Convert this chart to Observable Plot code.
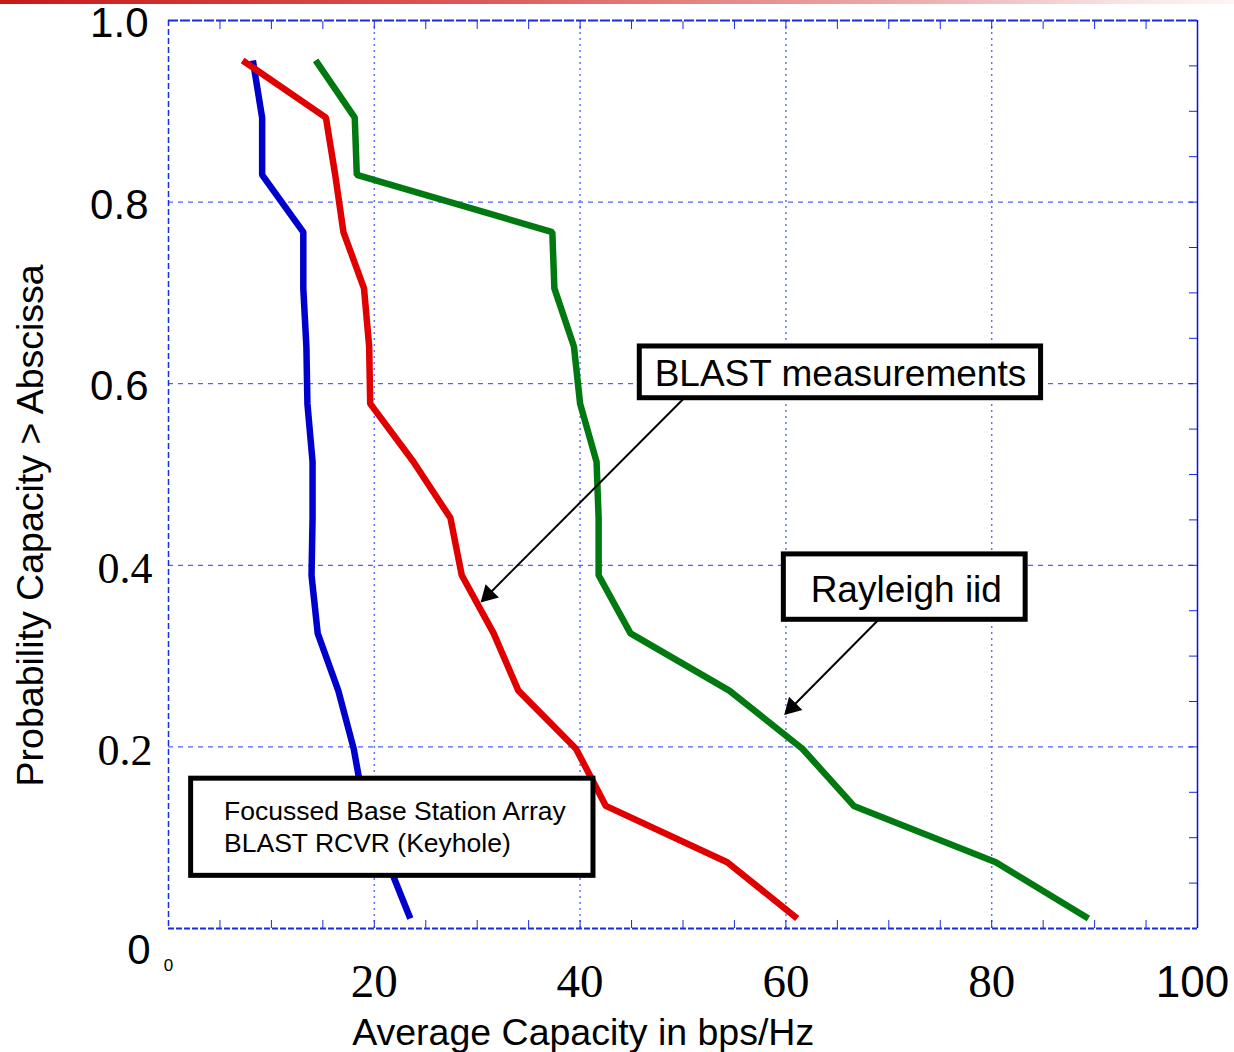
<!DOCTYPE html>
<html><head><meta charset="utf-8">
<script src="https://cdn.jsdelivr.net/npm/d3@7"></script>
<script src="https://cdn.jsdelivr.net/npm/@observablehq/plot@0.6"></script>
<style>
body{margin:0;background:#fff;}
#wrap{position:relative;width:1234px;height:1052px;}
#bar{position:absolute;left:0;top:0;width:1234px;height:4px;background:linear-gradient(to right,#c81818,#dd5c5c 40%,#ecb0b0 75%,#f8e6e6 92%,#fdf4f4);z-index:2;}
#wrap svg{position:absolute;left:0;top:0;}
</style></head><body><div id="wrap"><div id="bar"></div></div>
<script>
// Probability levels (ordinate) shared by the three curves
const probLevels = [0.956,0.893,0.830,0.767,0.705,0.641,0.578,0.514,0.452,0.389,0.325,0.262,0.198,0.135,0.073,0.011];
// Average capacity (bps/Hz) for each curve
const keyhole  = [8.2,9.1,9.1,13.1,13.1,13.4,13.5,14.0,14.0,13.9,14.5,16.5,18.0,19.0,21.3,23.5];
const blast    = [7.2,15.3,16.2,17.0,19.0,19.5,19.6,23.8,27.4,28.5,31.6,34.0,39.6,42.5,54.3,61.1];
const rayleigh = [14.3,18.1,18.3,37.3,37.5,39.4,40.0,41.6,41.8,41.8,44.9,54.5,61.6,66.6,80.4,89.4];

// Axis ticks
const xGrid = [20,40,60,80];
const yGrid = [0.2,0.4,0.6,0.8];
const xMinor = d3.range(5,100,5);
const yMinor = d3.range(0.05,1.0,0.05);
const xTickSerif = [20,40,60,80];
const xTickSans = [100];
const yTickSans = [0.6,0.8,1.0];
const yTickSerif = [0.2,0.4];

// Annotation boxes (data coordinates)
const boxLabels = ["BLAST measurements","Rayleigh iid","Focussed Base Station Array\nBLAST RCVR (Keyhole)"];
const boxX1 = [45.8,59.8,2.2];
const boxX2 = [84.8,83.3,41.3];
const boxY1 = [0.584,0.340,0.058];
const boxY2 = [0.641,0.412,0.165];
const labelX = [65.3,71.7,5.4];
const labelY = [0.611,0.373,0.113];
// Arrows
const arrowX1 = [50.1,69.0];
const arrowY1 = [0.584,0.340];
const arrowX2 = [30.5,60.0];
const arrowY2 = [0.361,0.237];

const mk = (vals) => probLevels.map((p,i) => ({cap: vals[i], prob: p}));
const boxes = boxLabels.map((t,i) => ({t, x1: boxX1[i], x2: boxX2[i], y1: boxY1[i], y2: boxY2[i], lx: labelX[i], ly: labelY[i]}));
const arrows = arrowX1.map((d,i) => ({x1: arrowX1[i], y1: arrowY1[i], x2: arrowX2[i], y2: arrowY2[i]}));

const SANS = "Liberation Sans, Arial, sans-serif";
const SERIF = "Liberation Serif, Times New Roman, serif";
const AX = "#1a2be0";

const chart = Plot.plot({
  width: 1234, height: 1052,
  marginLeft: 168, marginRight: 37, marginTop: 20, marginBottom: 124,
  x: {domain: [0,100], label: null},
  y: {domain: [0,1], label: null},
  style: {background: "transparent", overflow: "visible"},
  marks: [
    Plot.gridY(yGrid, {stroke: "#2a3af0", strokeOpacity: 1, strokeDasharray: "5,5", strokeWidth: 1}),
    Plot.gridX(xGrid, {stroke: "#6272ff", strokeOpacity: 1, strokeDasharray: "2,4", strokeWidth: 1.5}),
    Plot.axisX({anchor: "bottom", ticks: xMinor, tickSize: -8, tickFormat: () => "", stroke: AX, label: null}),
    Plot.axisX({anchor: "top", ticks: xMinor, tickSize: -8, tickFormat: () => "", stroke: AX, label: null}),
    Plot.axisY({anchor: "right", ticks: yMinor, tickSize: -9, tickFormat: () => "", stroke: AX, label: null}),
    Plot.ruleX([0], {stroke: AX, strokeDasharray: "6,3", strokeWidth: 1.5}),
    Plot.ruleY([0], {stroke: AX, strokeDasharray: "6,2", strokeWidth: 2}),
    Plot.ruleY([1], {stroke: AX, strokeDasharray: "10,2", strokeWidth: 2}),
    Plot.ruleX([100], {stroke: "#0010dd", strokeWidth: 1.5}),
    Plot.line(mk(keyhole), {x: "cap", y: "prob", stroke: "#0000cc", strokeWidth: 6.5, strokeLinejoin: "miter", strokeLinecap: "butt"}),
    Plot.line(mk(blast), {x: "cap", y: "prob", stroke: "#e00000", strokeWidth: 6.5, strokeLinejoin: "miter", strokeLinecap: "butt"}),
    Plot.line(mk(rayleigh), {x: "cap", y: "prob", stroke: "#007a10", strokeWidth: 6.5, strokeLinejoin: "miter", strokeLinecap: "butt"}),
    Plot.arrow(arrows, {x1: "x1", y1: "y1", x2: "x2", y2: "y2", stroke: "black", strokeWidth: 2, headLength: 0}),
    Plot.dot(arrows, {x: "x2", y: "y2", symbol: "triangle", r: 7, fill: "black", stroke: "none", rotate: 225, dx: 6, dy: -6}),
    Plot.rect(boxes, {x1: "x1", x2: "x2", y1: "y1", y2: "y2", fill: "white", stroke: "black", strokeWidth: 5}),
    Plot.text(boxes.slice(0,2), {x: "lx", y: "ly", text: "t", fontFamily: SANS, fontSize: 37, fill: "black", textAnchor: "middle"}),
    Plot.text(boxes.slice(2), {x: "lx", y: "ly", text: "t", fontFamily: SANS, fontSize: 26.5, fill: "black", textAnchor: "start", lineHeight: 1.2}),
    // Tick labels
    Plot.text(yTickSans, {y: d => d, text: d => d.toFixed(1), frameAnchor: "left", dx: -20, dy: 3, textAnchor: "end", fontFamily: SANS, fontSize: 42, fill: "black"}),
    Plot.text(yTickSerif, {y: d => d, text: d => d.toFixed(1), frameAnchor: "left", dx: -16, dy: 4, textAnchor: "end", fontFamily: SERIF, fontSize: 44, fill: "black"}),
    Plot.text([0], {y: d => d, text: d => "0", frameAnchor: "left", dx: -18, dy: 22, textAnchor: "end", fontFamily: SANS, fontSize: 42, fill: "black"}),
    Plot.text([0], {x: d => d, text: d => "0", frameAnchor: "bottom", dy: 42, textAnchor: "middle", fontFamily: SANS, fontSize: 17, fill: "black"}),
    Plot.text(xTickSerif, {x: d => d, text: d => String(d), frameAnchor: "bottom", dy: 68, textAnchor: "middle", fontFamily: SERIF, fontSize: 47, fill: "black"}),
    Plot.text(xTickSans, {x: d => d, text: d => String(d), frameAnchor: "bottom", dy: 68, dx: -5, textAnchor: "middle", fontFamily: SANS, fontSize: 44, fill: "black"}),
    // Axis titles
    Plot.text(["Average Capacity in bps/Hz"], {x: 40.3, frameAnchor: "bottom", dy: 116, text: d => d, textAnchor: "middle", fontFamily: SANS, fontSize: 37.5, fill: "black"}),
    Plot.text(["Probability Capacity > Abscissa"], {y: 0.444, frameAnchor: "left", dx: -138, text: d => d, textAnchor: "middle", rotate: -90, fontFamily: SANS, fontSize: 37.5, fill: "black"})
  ]
});
document.getElementById("wrap").appendChild(chart);
</script>
</body></html>
